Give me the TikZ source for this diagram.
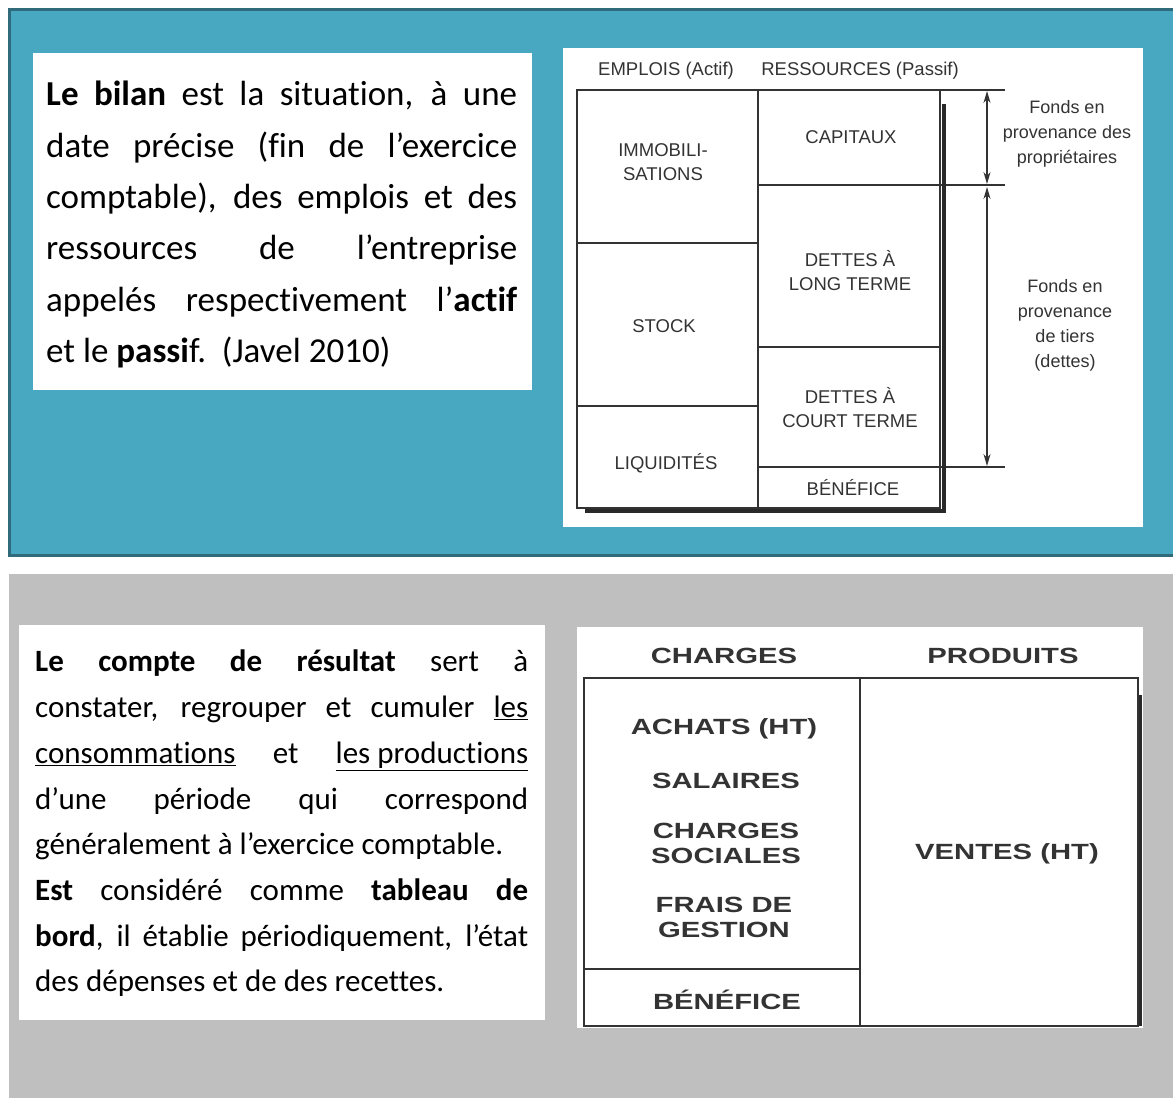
\documentclass[tikz,border=0pt]{standalone}
\usepackage{fontspec}
\usetikzlibrary{arrows.meta}
\setmainfont{Carlito}[Ligatures=NoCommon]
\newfontfamily\tabfont{Liberation Sans}
\newfontfamily\widefont[FakeStretch=1.33]{Liberation Sans}
\newcommand\uln[1]{\underline{#1}}
\definecolor{bilanteal}{HTML}{48A8C2}
\definecolor{bilanedge}{HTML}{2F6B7A}
\definecolor{panelgray}{HTML}{BFBFBF}
\definecolor{inkgray}{HTML}{333333}
\begin{document}
\begin{tikzpicture}[x=1pt,y=-1pt,>={Stealth[length=12pt,width=7pt]},
  bodytext/.style={anchor=north west,inner sep=0pt,align=justify,text=black},
  tabline/.style={draw=inkgray,line width=1.4pt},
  cell/.style={align=center,inner sep=0pt,text=inkgray,font=\tabfont\fontsize{18.5}{24}\selectfont},
  wcell/.style={align=center,inner sep=0pt,text=inkgray,font=\widefont\bfseries\fontsize{22}{25}\selectfont}]
  \useasboundingbox (0,0) rectangle (1173,1098);
  \fill[white] (0,0) rectangle (1173,1098);

  % bilan
  \fill[bilanteal] (9,9) rectangle (1173,555);
  \draw[bilanedge,line width=3pt] (1173,9) -- (9,9) -- (9,555) -- (1173,555);
  \node[fill=white,anchor=north west,minimum width=499pt,minimum height=337pt] (bilanbox) at (33,53) {};
  \node[bodytext,text width=471pt,font=\fontsize{35}{51.4}\selectfont] (bilantxt) at (46,81)
    {\tolerance=10000 \textbf{Le bilan} est la situation, à une\linebreak
     date précise (fin de l’exercice\linebreak
     comptable), des emplois et des\linebreak
     ressources de l’entreprise\linebreak
     appelés respectivement l’\textbf{actif}\linebreak
     et le \textbf{passi}f.\ \ (Javel 2010)};

  \node[fill=white,anchor=north west,minimum width=580pt,minimum height=479pt] (bilantab) at (563,48) {};
  \draw[tabline] (577,90) rectangle (940,508);
  \draw[tabline] (758,90) -- (758,508);
  \foreach \y in {243,406} \draw[tabline] (577,\y) -- (758,\y);
  \draw[tabline] (758,347) -- (940,347);
  \foreach \y in {185,467} \draw[tabline] (758,\y) -- (1005,\y);
  \draw[tabline] (940,90) -- (1005,90);
  \draw[inkgray!80!black,line width=4pt] (944,104) -- (944,511) -- (585,511);

  \node[cell] (emplois) at (666,71) {EMPLOIS (Actif)};
  \node[cell] (ressources) at (860,71) {RESSOURCES (Passif)};
  \node[cell] (immo) at (663,162) {IMMOBILI-\\SATIONS};
  \node[cell] (stock) at (664,326) {STOCK};
  \node[cell] (liquid) at (666,463) {LIQUIDITÉS};
  \node[cell] (capitaux) at (851,137) {CAPITAUX};
  \node[cell] (dlt) at (850,271) {DETTES À\\LONG TERME};
  \node[cell] (dct) at (850,408) {DETTES À\\COURT TERME};
  \node[cell] (benef) at (853,488) {BÉNÉFICE};
  \node[cell,font=\tabfont\fontsize{18}{25}\selectfont] (proprio) at (1067,134) {Fonds en\\provenance des\\propriétaires};
  \node[cell,font=\tabfont\fontsize{18}{25}\selectfont] (tiers) at (1065,325) {Fonds en\\provenance\\de tiers\\(dettes)};

  \coordinate (p1) at (987,91);
  \coordinate (p2) at (987,184);
  \coordinate (p3) at (987,187);
  \coordinate (p4) at (987,466);
  \draw[<->,inkgray,line width=1.2pt] (p1) -- (p2);
  \draw[<->,inkgray,line width=1.2pt] (p3) -- (p4);

  % compte de resultat
  \fill[panelgray] (9,574) rectangle (1173,1098);
  \node[fill=white,anchor=north west,minimum width=526pt,minimum height=395pt] (crbox) at (19,625) {};
  \node[bodytext,text width=493pt,font=\fontsize{31}{45.7}\selectfont] (crtxt) at (35,650)
    {\tolerance=10000 \textbf{Le compte de résultat} sert à\linebreak
     constater, regrouper et cumuler \uln{les}\linebreak
     \uln{consommations} et \uln{les productions}\linebreak
     d’une période qui correspond\linebreak
     généralement à l’exercice comptable.\\
     \textbf{Est} considéré comme \textbf{tableau de}\linebreak
     \textbf{bord}, il établie périodiquement, l’état\linebreak
     des dépenses et de des recettes.};

  \node[fill=white,anchor=north west,minimum width=566pt,minimum height=401pt] (crtab) at (577,627) {};
  \draw[tabline] (584,678) rectangle (1138,1026);
  \draw[tabline] (860,678) -- (860,1026);
  \draw[tabline] (584,969) -- (860,969);
  \draw[inkgray!80!black,line width=3pt] (1140,695) -- (1140,1026);

  \node[wcell] (charges) at (724,656) {CHARGES};
  \node[wcell] (produits) at (1003,656) {PRODUITS};
  \node[wcell] (achats) at (724,729) {ACHATS (HT)};
  \node[wcell] (salaires) at (726,781) {SALAIRES};
  \node[wcell] (sociales) at (726,843) {CHARGES\\SOCIALES};
  \node[wcell] (frais) at (724,917) {FRAIS DE\\GESTION};
  \node[wcell] (benefcr) at (727,1000) {BÉNÉFICE};
  \node[wcell] (ventes) at (1007,854) {VENTES (HT)};
\end{tikzpicture}
\end{document}
